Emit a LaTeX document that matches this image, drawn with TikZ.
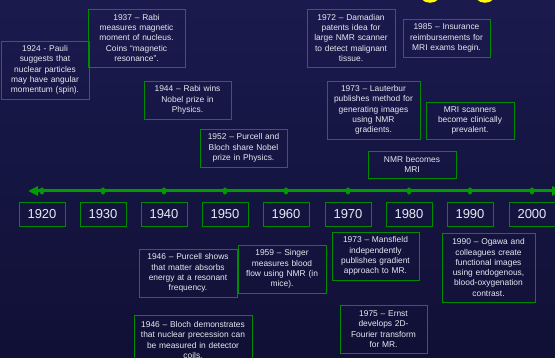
\documentclass[tikz,border=0pt]{standalone}
\usepackage{fontspec}
\setmainfont{Liberation Sans}
\usetikzlibrary{arrows.meta}
\definecolor{bgtop}{RGB}{26,26,78}
\definecolor{bgmid}{RGB}{52,52,152}
\definecolor{bgbot}{RGB}{16,16,54}
\definecolor{boxgreen}{RGB}{0,140,0}
\definecolor{linegreen}{RGB}{0,155,0}
\definecolor{txt}{RGB}{232,232,242}
\definecolor{titleyellow}{RGB}{255,255,0}
\tikzset{
  evt/.style={draw=boxgreen, line width=0.9pt, inner sep=0pt, align=center,
    text=txt, font=\fontsize{8.4}{10.3}\selectfont},
  yearbox/.style={draw=boxgreen, line width=0.9pt, inner sep=0pt, minimum width=46pt,
    minimum height=24pt, text=txt, font=\fontsize{13}{15}\selectfont},
  tickmark/.style={fill=linegreen},
  timeline/.style={draw=linegreen, line width=3pt, {Triangle[length=10pt,width=9pt]}-{Triangle[length=10pt,width=9pt]}}
}
\begin{document}
\begin{tikzpicture}[x=1pt,y=-1pt]
\useasboundingbox (0,0) rectangle (555,358);
\clip (0,0) rectangle (555,358);
\shade[top color=bgtop, middle color=bgmid, bottom color=bgbot] (0,0) rectangle (555,358);
% title remnants
\fill[titleyellow] (430,-9.2) circle (12);
\fill[titleyellow] (485,-9.2) circle (12);
% timeline
\coordinate (tlL) at (28,191);
\coordinate (tlR) at (562,191);
\draw[timeline] (tlL) -- (tlR);
\foreach \x/\yr in {42/1920,103/1930,164/1940,225/1950,286/1960,348/1970,409/1980,470/1990,532/2000}{
  \fill[tickmark] (\x,191) ellipse (2.2 and 3.6);
  \node[yearbox] (y\yr) at (\x,214) {\yr};
}
% upper events
\node[evt, minimum width=88pt, minimum height=58pt, text width=86pt] (pauli) at (45,70)
  {1924 - Pauli\\suggests that\\nuclear particles\\may have angular\\momentum (spin).};
\node[evt, minimum width=97pt, minimum height=58pt, text width=95pt] (rabiA) at (136.5,38)
  {1937 – Rabi\\measures magnetic\\moment of nucleus.\\Coins “magnetic\\resonance”.};
\node[evt, minimum width=87pt, minimum height=38pt, text width=85pt] (rabiB) at (187.5,100)
  {1944 – Rabi wins\\Nobel prize in\\Physics.};
\node[evt, minimum width=87pt, minimum height=38pt, text width=85pt] (pb) at (243.5,148)
  {1952 – Purcell and\\Bloch share Nobel\\prize in Physics.};
\node[evt, minimum width=88pt, minimum height=58pt, text width=86pt] (dam) at (351,38)
  {1972 – Damadian\\patents idea for\\large NMR scanner\\to detect malignant\\tissue.};
\node[evt, minimum width=87pt, minimum height=38pt, text width=85pt] (ins) at (446.5,38)
  {1985 – Insurance\\reimbursements for\\MRI exams begin.};
\node[evt, minimum width=93pt, minimum height=58pt, text width=91pt] (lau) at (373.5,110)
  {1973 – Lauterbur\\publishes method for\\generating images\\using NMR\\gradients.};
\node[evt, minimum width=88pt, minimum height=37pt, text width=86pt] (mris) at (470,120.5)
  {MRI scanners\\become clinically\\prevalent.};
\node[evt, minimum width=88pt, minimum height=27pt, text width=86pt] (nmr) at (412,164.5)
  {NMR becomes\\MRI};
% lower events
\node[evt, minimum width=98pt, minimum height=48pt, text width=96pt] (pur) at (188,273)
  {1946 – Purcell shows\\that matter absorbs\\energy at a resonant\\frequency.};
\node[evt, minimum width=88pt, minimum height=48pt, text width=86pt] (sin) at (282,269)
  {1959 – Singer\\measures blood\\flow using NMR (in\\mice).};
\node[evt, minimum width=118pt, minimum height=50pt, text width=116pt] (blo) at (193,340)
  {1946 – Bloch demonstrates\\that nuclear precession can\\be measured in detector\\coils.};
\node[evt, minimum width=87pt, minimum height=48pt, text width=85pt] (man) at (375.5,256)
  {1973 – Mansfield\\independently\\publishes gradient\\approach to MR.};
\node[evt, minimum width=93pt, minimum height=69pt, text width=91pt] (oga) at (488.5,267.5)
  {1990 – Ogawa and\\colleagues create\\functional images\\using endogenous,\\blood-oxygenation\\contrast.};
\node[evt, minimum width=87pt, minimum height=48pt, text width=85pt] (ern) at (383.5,329)
  {1975 – Ernst\\develops 2D-\\Fourier transform\\for MR.};
\end{tikzpicture}
\end{document}
